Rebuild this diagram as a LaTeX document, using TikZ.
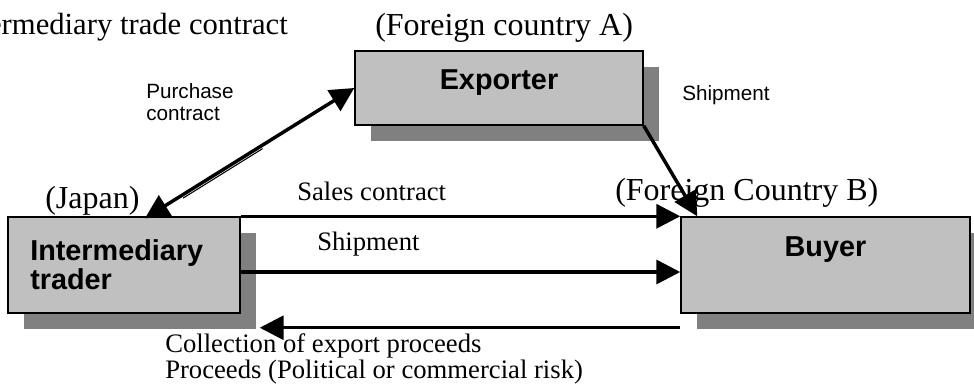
\documentclass[tikz,border=0pt]{standalone}
\usepackage{fontspec}
\setmainfont{Liberation Serif}
\newfontfamily\arialfont{Liberation Sans}
\usetikzlibrary{arrows.meta,calc,shadows}

\definecolor{boxgray}{RGB}{192,192,192}
\definecolor{shadowgray}{RGB}{128,128,128}

\tikzset{
  partybox/.style={draw=black, line width=1.1pt, fill=boxgray, inner sep=0pt,
    general shadow={fill=shadowgray, shadow xshift=12pt, shadow yshift=-12pt}},
  flowline/.style={line width=2.6pt, -{Triangle[length=18pt,width=18pt]}},
  placetxt/.style={inner sep=0pt, font=\fontsize{24}{28}\selectfont},
  romantxt/.style={inner sep=0pt, font=\fontsize{20}{24}\selectfont},
  sanstxt/.style={inner sep=0pt, font=\arialfont\fontsize{15.5}{18}\selectfont},
  boldtxt/.style={inner sep=0pt, font=\arialfont\bfseries\fontsize{21.6}{26}\selectfont},
}

\begin{document}
\begin{tikzpicture}[x=0.75pt,y=0.75pt,yscale=-1,xscale=1]
\useasboundingbox (0,0) rectangle (974,390);

%Shaded Boxes
\node (exp) [partybox, minimum width=216pt, minimum height=55.5pt] at (499,88) {};
\node (inter) [partybox, minimum width=174pt, minimum height=72pt] at (124,265) {};
\node (buyer) [partybox, minimum width=216.75pt, minimum height=72pt] at (825.5,265) {};

% Text Node
\node (expname) [boldtxt, anchor=base] at (499,89) {Exporter};
% Text Node
\node (intername) [boldtxt, anchor=base west] at (30,260) {Intermediary};
% Text Node
\node (intername2) [boldtxt, anchor=base west] at (30,289) {trader};
% Text Node
\node (buyername) [boldtxt, anchor=base] at (825.5,256) {Buyer};

% Text Node
\node (title) [placetxt, font=\fontsize{23}{28}\selectfont, anchor=base east] at (288,34) {Intermediary trade contract};
% Text Node
\node (countryA) [placetxt, anchor=base west] at (375,35) {(Foreign country A)};
% Text Node
\node (japan) [placetxt, anchor=base west] at (45,208) {(Japan)};
% Text Node
\node (countryB) [placetxt, anchor=base west] at (615,200) {(Foreign Country B)};
% Text Node
\node (purchase) [sanstxt, anchor=base west] at (146,98) {Purchase};
% Text Node
\node (purchase2) [sanstxt, anchor=base west] at (146,120) {contract};
% Text Node
\node (shipA) [sanstxt, anchor=base west] at (682,100) {Shipment};
% Text Node
\node (sales) [romantxt, anchor=base west] at (297,200) {Sales contract};
% Text Node
\node (shipB) [romantxt, anchor=base west] at (317,250) {Shipment};
% Text Node
\node (collect) [romantxt, anchor=base west] at (165,352) {Collection of export proceeds};
% Text Node
\node (risk) [romantxt, anchor=base west] at (165,378) {Proceeds (Political or commercial risk)};

%Straight Lines
\coordinate (intertop) at ($(inter.north)+(21,2)$);
\draw [flowline, {Triangle[length=18pt,width=18pt]}-{Triangle[length=18pt,width=18pt]}] (intertop) -- (exp.west);
\draw [line width=0.8pt] ($(intertop)!0.17!(exp.west)+(2.5,2)$) -- ($(intertop)!0.55!(exp.west)+(2.5,2)$);
%Straight Lines
\draw [flowline] (exp.south east) -- ($(buyer.north west)+(17,0)$);
%Straight Lines
\draw [flowline] (inter.north east) -- (buyer.north west);
%Straight Lines
\draw [flowline] ($(inter.east)+(0,7)$) -- ($(buyer.west)+(0,7)$);
%Straight Lines
\draw [flowline] ($(buyer.south west)+(0,14)$) -- ($(inter.south east)+(19,14)$);

\end{tikzpicture}
\end{document}
